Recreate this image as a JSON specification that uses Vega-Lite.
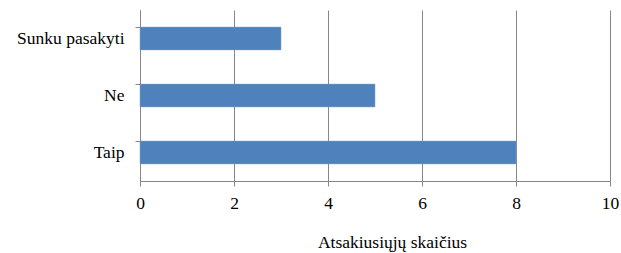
{
  "$schema": "https://vega.github.io/schema/vega-lite/v6.json",
  "width": 470,
  "height": 171,
  "autosize": {"type": "none"},
  "padding": {"left": 140, "top": 10, "right": 11, "bottom": 72},
  "background": "white",
  "data": {"values": [
    {"answer": "Sunku pasakyti", "count": 3},
    {"answer": "Ne", "count": 5},
    {"answer": "Taip", "count": 8}
  ]},
  "config": {
    "view": {"stroke": null},
    "font": "Liberation Serif, Times New Roman, serif"
  },
  "mark": {"type": "bar", "color": "#4F81BD", "stroke": "#7BA0CD", "strokeWidth": 0.5},
  "encoding": {
    "y": {
      "field": "answer", "type": "nominal",
      "sort": ["Sunku pasakyti", "Ne", "Taip"],
      "scale": {"paddingInner": 0.6, "paddingOuter": 0.3},
      "axis": {
        "title": null, "bandPosition": 0, "grid": false,
        "domainColor": "#868686", "tickColor": "#868686", "tickSize": 5,
        "labelColor": "#000000", "labelFontSize": 17.5,
        "labelPadding": 11
      }
    },
    "x": {
      "field": "count", "type": "quantitative",
      "scale": {"domain": [0, 10], "nice": false},
      "axis": {
        "values": [0, 2, 4, 6, 8, 10],
        "title": "Atsakiusiųjų skaičius", "titleFontSize": 17.5, "titleFontWeight": "normal", "titlePadding": 22,
        "titleColor": "#000000", "titleX": 252, "titleAlign": "center",
        "labelColor": "#000000", "labelFontSize": 17.5,
        "grid": true, "gridColor": "#868686", "gridWidth": 1,
        "domainColor": "#868686", "tickColor": "#868686", "tickSize": 5,
        "labelPadding": 8, "labelFlush": false
      }
    }
  }
}
